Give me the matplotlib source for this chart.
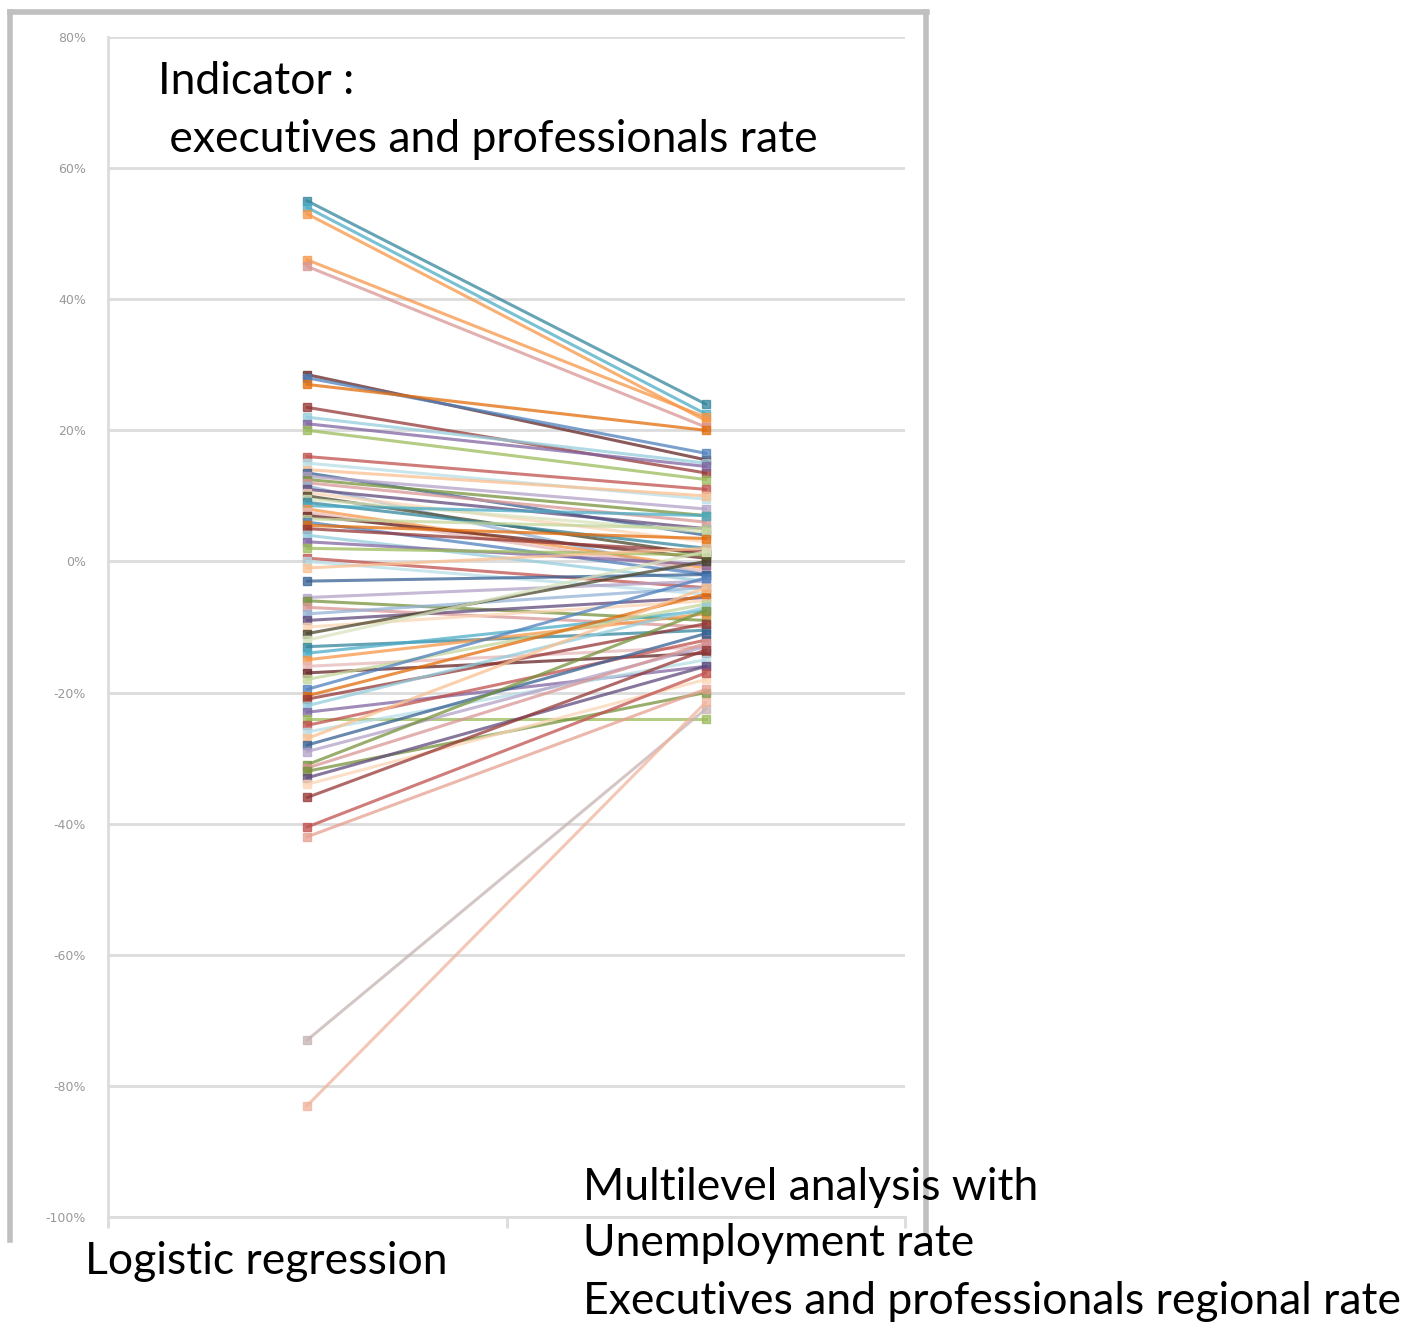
import matplotlib.pyplot as plt
from matplotlib.lines import Line2D
from matplotlib.ticker import FuncFormatter

# estimates, in %
logistic = [55, 54, 53, 46, 45, 28.5, 28, 27, 23.5, 22, 21, 20,
            16, 15, 14, 13.5, 13, 12.5, 12, 11.5, 11, 10.5, 10, 9.5, 9, 8.5, 8,
            7.5, 7, 6.5, 6, 5.5, 5, 4, 3, 2,
            0.5, 0, -1, -3, -5.5, -6, -7, -8, -9, -10, -11, -12, -13, -14,
            -15, -16, -17, -18, -19.5, -20.5, -21, -22, -23, -24, -25, -26,
            -27, -28, -29, -31, -31.5, -32, -33, -34, -36,
            -40.5, -42, -73, -83]
multilevel = [24, 22.5, 21.5, 22, 20.5, 15.5, 16.5, 20, 13.5, 15, 14.5, 12.5,
              11, 9.5, 10, 4, 8, 7, 6, -2, 5, 3, 1, 4.5, 2, 7, -1,
              -1.5, 0.5, 5, -2, 3.5, 1.5, -3, -0.5, 1,
              -4, -5, 2, -2, -3, -9, -10, -4, -5.5, -6, 0, 1.5, -10.5, -7.5,
              -8, -13, -14, -6.5, -2.5, -5, -9.5, -7, -16, -24, -12, -15,
              -4, -11, -13, -7.5, -12.5, -20, -16, -18, -13.5,
              -17, -19.5, -22.5, -21.5]
categories = ['Logistic regression', 'Multilevel analysis']

palette = ['#31859C', '#4BACC6', '#F79646', '#E6B9B8', '#632423', '#C3D69B',
           '#4F81BD', '#E46C0A', '#953735', '#93CDDD', '#8064A2', '#9BBB59',
           '#C0504D', '#B7DEE8', '#FAC090', '#376092', '#B3A2C7', '#77933C',
           '#D99694', '#95B3D7', '#604A7B', '#FCD5B5', '#4A452A', '#D7E4BD']
n = len(logistic)
special = {n - 1: '#F0B49C', n - 2: '#C8B4B4', n - 3: '#E6A090', n - 4: '#C0504D',
           n - 5: '#953735', n - 8: '#77933C', 3: '#F79646', 4: '#D99694', 5: '#632423'}

fig = plt.figure(figsize=(14.02, 13.24), dpi=100)
ax = fig.add_axes([108/1402, 1-1217/1324, (905-108)/1402, (1217-37)/1324])

xs = [0.5, 1.5]
for i in range(n):
    c = special.get(i, palette[i % len(palette)])
    ax.plot(xs, [logistic[i]/100, multilevel[i]/100], color=c, lw=2.2, alpha=0.75,
            marker='s', ms=6, mec=c, mfc=c)

ax.set_xlim(0, 2)
ax.set_ylim(-1, 0.8)
ax.set_yticks([i/100 for i in range(-100, 81, 20)])
ax.yaxis.set_major_formatter(FuncFormatter(lambda v, p: '{:.0f}%'.format(v*100)))
ax.set_xticks([0, 1, 2])
ax.set_xticklabels([])
ax.grid(axis='y', color='#dcdcdc', lw=2)
for ln in ax.get_ygridlines():
    if abs(ln.get_ydata()[0] - 0.2) < 1e-6:
        ln.set_color('#b8b8b8')
ax.set_axisbelow(True)
for s in ['top', 'right']:
    ax.spines[s].set_visible(False)
ax.spines['left'].set_color('#dcdcdc')
ax.spines['left'].set_linewidth(2)
ax.spines['bottom'].set_color('#dcdcdc')
ax.spines['bottom'].set_linewidth(2)
ax.tick_params(axis='y', length=0, labelsize=9, labelcolor='#999999', pad=16)
ax.tick_params(axis='x', length=8, color='#dcdcdc', width=2)

# excel chart frame
frame_kw = dict(color='#c0c0c0', lw=4, transform=fig.transFigure)
fig.add_artist(Line2D([10/1402, 10/1402], [1-1240/1324, 1-12/1324], **frame_kw))
fig.add_artist(Line2D([10/1402, 927/1402], [1-12/1324, 1-12/1324], **frame_kw))
fig.add_artist(Line2D([926/1402, 926/1402], [1-1232/1324, 1-12/1324], **frame_kw))

fnt = 'Lato'
fs = 32
fig.text(158/1402, 1-82/1324, 'Indicator :', fontsize=fs, family=fnt, va='center')
fig.text(158/1402, 1-140/1324, ' executives and professionals rate', fontsize=fs,
         family=fnt, va='center')
fig.text(85/1402, 1-1262/1324, 'Logistic regression', fontsize=fs, family=fnt, va='center')
fig.text(583/1402, 1-1187/1324, 'Multilevel analysis with', fontsize=fs, family=fnt, va='center')
fig.text(583/1402, 1-1244/1324, 'Unemployment rate', fontsize=fs, family=fnt, va='center')
fig.text(583/1402, 1-1301/1324, 'Executives and professionals regional rate', fontsize=fs,
         family=fnt, va='center')

fig.savefig('out.png', dpi=100)
